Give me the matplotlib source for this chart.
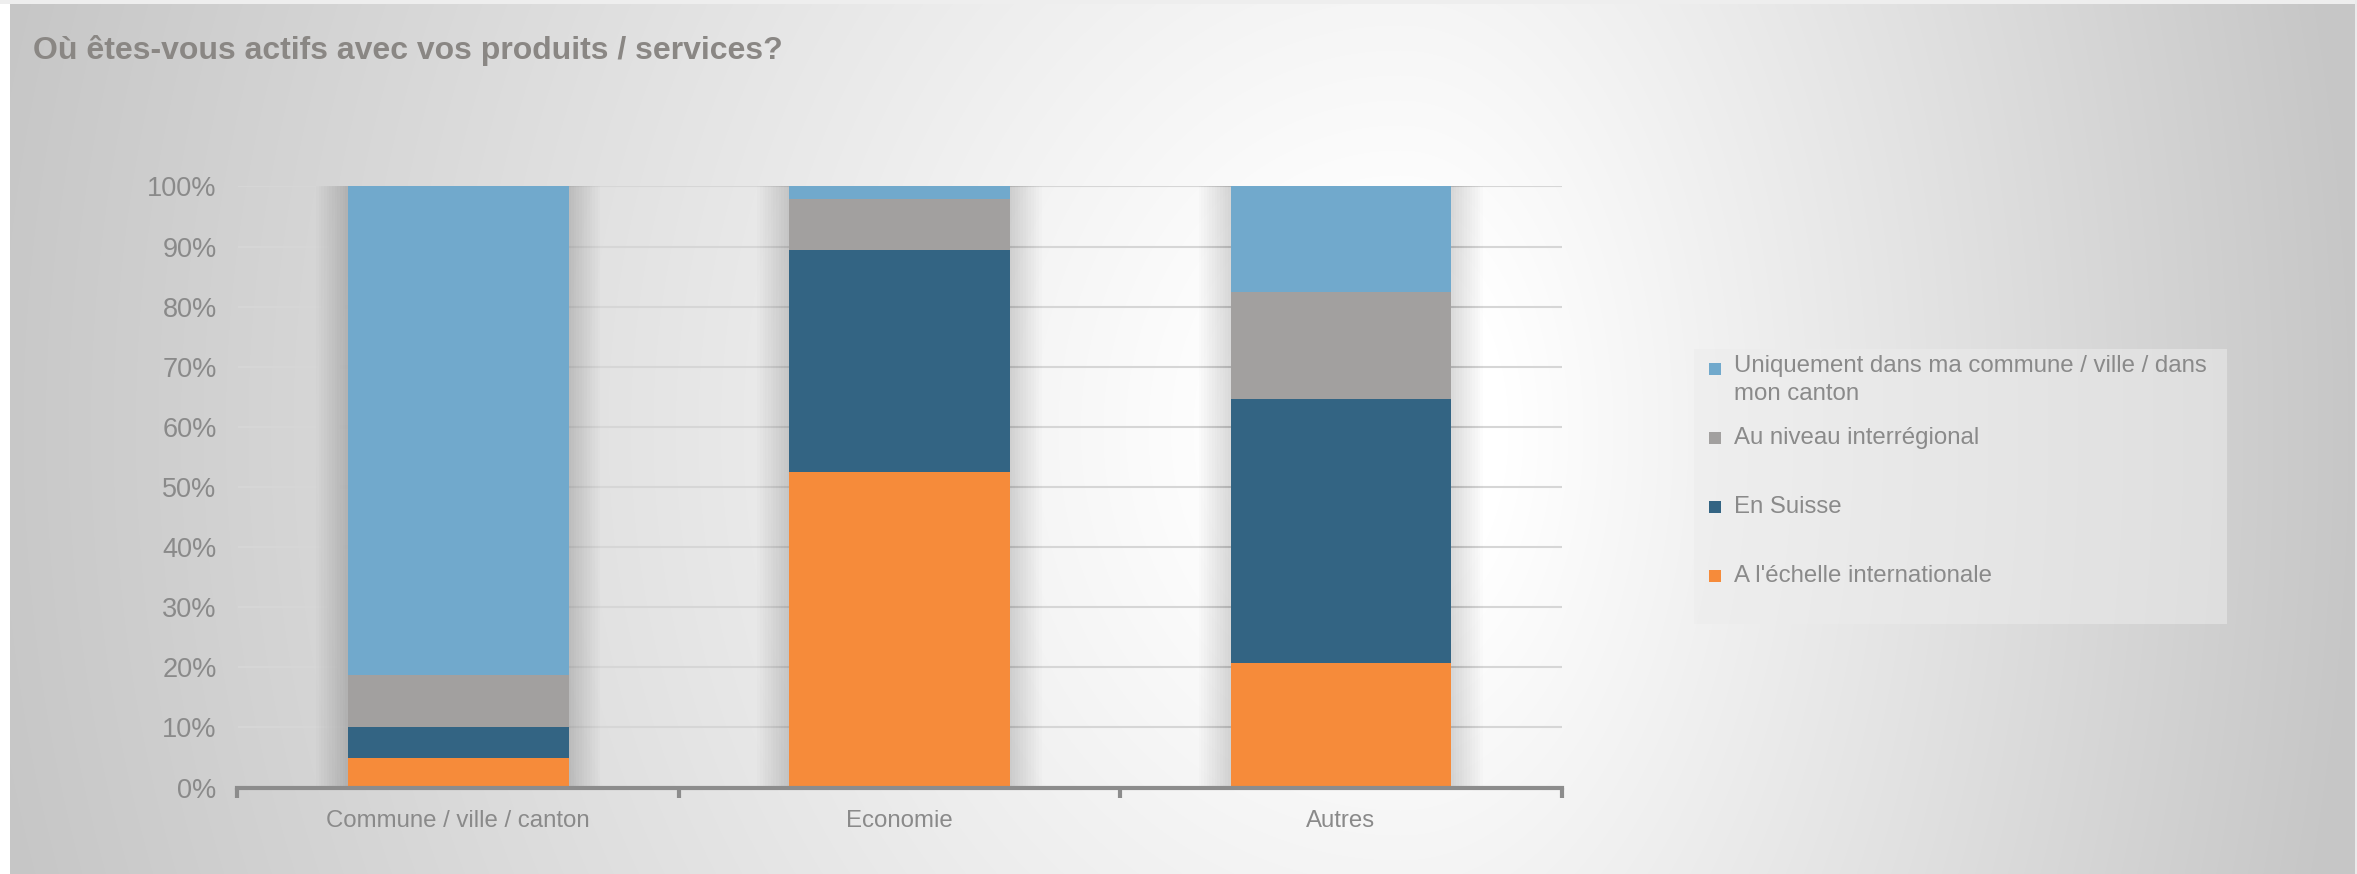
import numpy as np
import matplotlib
matplotlib.use("Agg")
import matplotlib.pyplot as plt
from matplotlib.patches import Rectangle

# data (share of answers, in %)
categories = ["Commune / ville / canton", "Economie", "Autres"]
series_names = ["A l'échelle internationale", "En Suisse", "Au niveau interrégional",
                "Uniquement dans ma commune / ville / dans\nmon canton"]
international = [4.9, 52.5, 20.8]
suisse = [5.1, 36.9, 43.9]
interregional = [8.7, 8.5, 17.7]
local = [81.3, 2.1, 17.6]
colors = ["#F68B3A", "#336483", "#A2A09F", "#71A9CC"]
yticks = [0, 10, 20, 30, 40, 50, 60, 70, 80, 90, 100]

title = "Où êtes-vous actifs avec vos produits / services?"
txt_col = "#8a8a8a"

plt.rcParams['font.family'] = ['Liberation Sans', 'DejaVu Sans']

W, H = 2357, 874
fig = plt.figure(figsize=(W / 100, H / 100), dpi=100)

# background: light grey with a bright soft spot, like the Excel gradient fill
yy, xx = np.mgrid[0:H, 0:W].astype(float)
cx, cy = 1400.0, 430.0
sx = np.where(xx < cx, 1350.0, 900.0)
d = np.sqrt(((xx - cx) / sx) ** 2 + ((yy - cy) / 1500.0) ** 2)
t = np.clip((d - 0.12) / 0.95, 0, 1)
g = 255 - (255 - 198) * t
g[:, :10] = 255
g[:4, :] = 238
g[:, W - 2:] = 235
bg = fig.add_axes([0, 0, 1, 1], zorder=-10)
bg.imshow(np.dstack([g, g, g]) / 255.0, aspect="auto", interpolation="bilinear")
bg.axis("off")

ax = fig.add_axes([237.5 / W, 86.4 / H, 1324.0 / W, 601.2 / H])
ax.patch.set_alpha(0)

x = np.arange(len(categories))
width = 0.5
stack = [international, suisse, interregional, local]

# soft shadow on each side of the bars
totals = np.sum(stack, axis=0) / 100.0
for k in range(1, 13):
    ax.bar(x, totals, width + 2 * k * 0.006, color="black", alpha=0.011,
           linewidth=0, zorder=1)

bottom = np.zeros(len(categories))
for vals, col in zip(stack, colors):
    v = np.array(vals) / 100.0
    ax.bar(x, v, width, bottom=bottom, color=col, linewidth=0, zorder=3)
    bottom += v

ax.set_xlim(-0.5, 2.5)
ax.set_ylim(0, 1)
ax.set_yticks([v / 100 for v in yticks])
ax.set_yticklabels([f"{v}%" for v in yticks])
ax.yaxis.grid(True, color="#d6d6d6", linewidth=1.5, zorder=0)
ax.set_axisbelow(True)
for s in ["top", "right", "left"]:
    ax.spines[s].set_visible(False)
ax.spines["bottom"].set_color("#8c8c8c")
ax.spines["bottom"].set_linewidth(3)
ax.spines["bottom"].set_zorder(5)
ax.tick_params(axis="y", length=0, labelsize=19.5, labelcolor=txt_col, pad=15)
ax.set_xticks(x)
ax.set_xticklabels(categories)
ax.tick_params(axis="x", which="major", length=0, labelsize=17.3, labelcolor=txt_col, pad=16)
ax.set_xticks([-0.5, 0.5, 1.5, 2.5], minor=True)
ax.tick_params(axis="x", which="minor", length=7, width=3, color="#8c8c8c")

fig.text(33 / W, 1 - 50 / H, title, fontsize=23, fontweight="bold", color="#8a8784",
         va="center", ha="left")

# legend drawn by hand to follow the Excel layout
fig.patches.append(Rectangle((1694 / W, 1 - 624 / H), (2227 - 1694) / W, (624 - 349) / H,
                             transform=fig.transFigure, facecolor="#ececec", alpha=0.55,
                             edgecolor="none"))
leg_y = [576, 507, 438, 369]
for name, col, yv in zip(series_names, colors, leg_y):
    fig.patches.append(Rectangle((1709 / W, 1 - (yv + 6) / H), 12 / W, 12 / H,
                                 transform=fig.transFigure, facecolor=col, edgecolor="none"))
    va = "top" if "\n" in name else "center"
    ty = yv - 14 if "\n" in name else yv
    fig.text(1734 / W, 1 - ty / H, name, fontsize=17.3, color=txt_col, va=va, ha="left",
             linespacing=1.35)

fig.savefig("out.png", dpi=100)
